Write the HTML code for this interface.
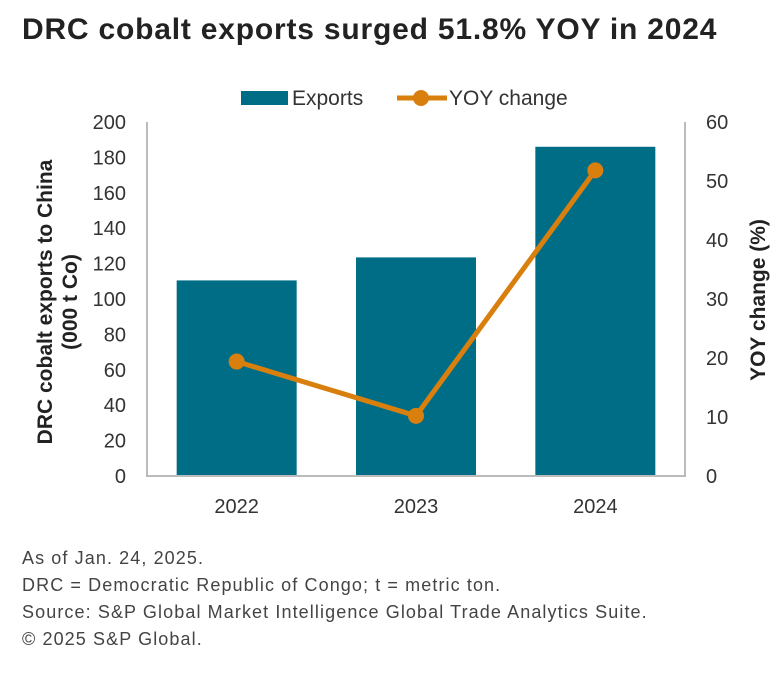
<!DOCTYPE html>
<html><head><meta charset="utf-8"><style>
body{margin:0;background:#fff;width:782px;height:680px;overflow:hidden;font-family:"Liberation Sans",sans-serif}
.title{position:absolute;left:22px;top:13px;font-size:30px;font-weight:bold;color:#222;letter-spacing:0.8px}
.notes{position:absolute;left:22px;top:545px;font-size:18px;color:#444;line-height:27px;letter-spacing:1.1px}
</style></head><body>
<div class="title">DRC cobalt exports surged 51.8% YOY in 2024</div>
<svg id="chart" width="782" height="680" style="position:absolute;left:0;top:0"></svg>
<div class="notes">As of Jan. 24, 2025.<br>DRC = Democratic Republic of Congo; t = metric ton.<br>Source: S&amp;P Global Market Intelligence Global Trade Analytics Suite.<br>© 2025 S&amp;P Global.</div>
<script>
const categories=["2022","2023","2024"];
const exportsVals=[110.5,123.5,186];
const yoyVals=[19.4,10.2,51.8];
const leftTicks=[0,20,40,60,80,100,120,140,160,180,200];
const rightTicks=[0,10,20,30,40,50,60];
const NS="http://www.w3.org/2000/svg";
const svg=document.getElementById('chart');
const X0=147,X1=685,Y0=476,Y1=122;
const yL=v=>Y0-(v/200)*(Y0-Y1);
const yR=v=>Y0-(v/60)*(Y0-Y1);
const band=(X1-X0)/categories.length;
const xc=i=>X0+band*(i+0.5);
function mk(t,a){const e=document.createElementNS(NS,t);for(const k in a)e.setAttribute(k,a[k]);svg.appendChild(e);return e;}
categories.forEach((c,i)=>{
 const r=mk('rect',{x:xc(i)-60,y:yL(exportsVals[i]),width:120,height:Y0-yL(exportsVals[i]),fill:'#006d87'});
 
 
 const t=mk('text',{x:xc(i),y:513,'text-anchor':'middle','font-size':20,fill:'#333'});t.textContent=c;
 
 
});
const ax=mk('path',{d:`M${X0} ${Y1}V${Y0}H${X1}V${Y1}`,stroke:'#bbb','stroke-width':2,fill:'none'});


leftTicks.forEach(v=>{const t=mk('text',{x:126,y:yL(v)+7,'text-anchor':'end','font-size':20,fill:'#333'});t.textContent=v;
 
 });
rightTicks.forEach(v=>{const t=mk('text',{x:706,y:yR(v)+7,'text-anchor':'start','font-size':20,fill:'#333'});t.textContent=v;
 
 });
const line=mk('polyline',{points:yoyVals.map((v,i)=>xc(i)+','+yR(v)).join(' '),fill:'none',stroke:'#d97f0e','stroke-width':5});


yoyVals.forEach((v,i)=>{const c=mk('circle',{cx:xc(i),cy:yR(v),r:8,fill:'#d97f0e'});
 
 });
const lt=mk('text',{transform:'translate(52,302) rotate(-90)','text-anchor':'middle','font-size':21,'font-weight':'bold',fill:'#222'});
lt.innerHTML='<tspan x="0" dy="0">DRC cobalt exports to China</tspan><tspan x="0" dy="25">(000 t Co)</tspan>';


const rt=mk('text',{transform:'translate(765,300) rotate(-90)','text-anchor':'middle','font-size':21,'font-weight':'bold',fill:'#222'});
rt.textContent='YOY change (%)';


const lr=mk('rect',{x:241,y:91,width:47,height:14,fill:'#006d87'});


const l1=mk('text',{x:292,y:105,'font-size':21,fill:'#333'});l1.textContent='Exports';


const ll=mk('line',{x1:397,y1:98,x2:447,y2:98,stroke:'#d97f0e','stroke-width':5});


const lc=mk('circle',{cx:421,cy:98,r:8,fill:'#d97f0e'});


const l2=mk('text',{x:449,y:105,'font-size':21,fill:'#333'});l2.textContent='YOY change';


</script>
</body></html>
